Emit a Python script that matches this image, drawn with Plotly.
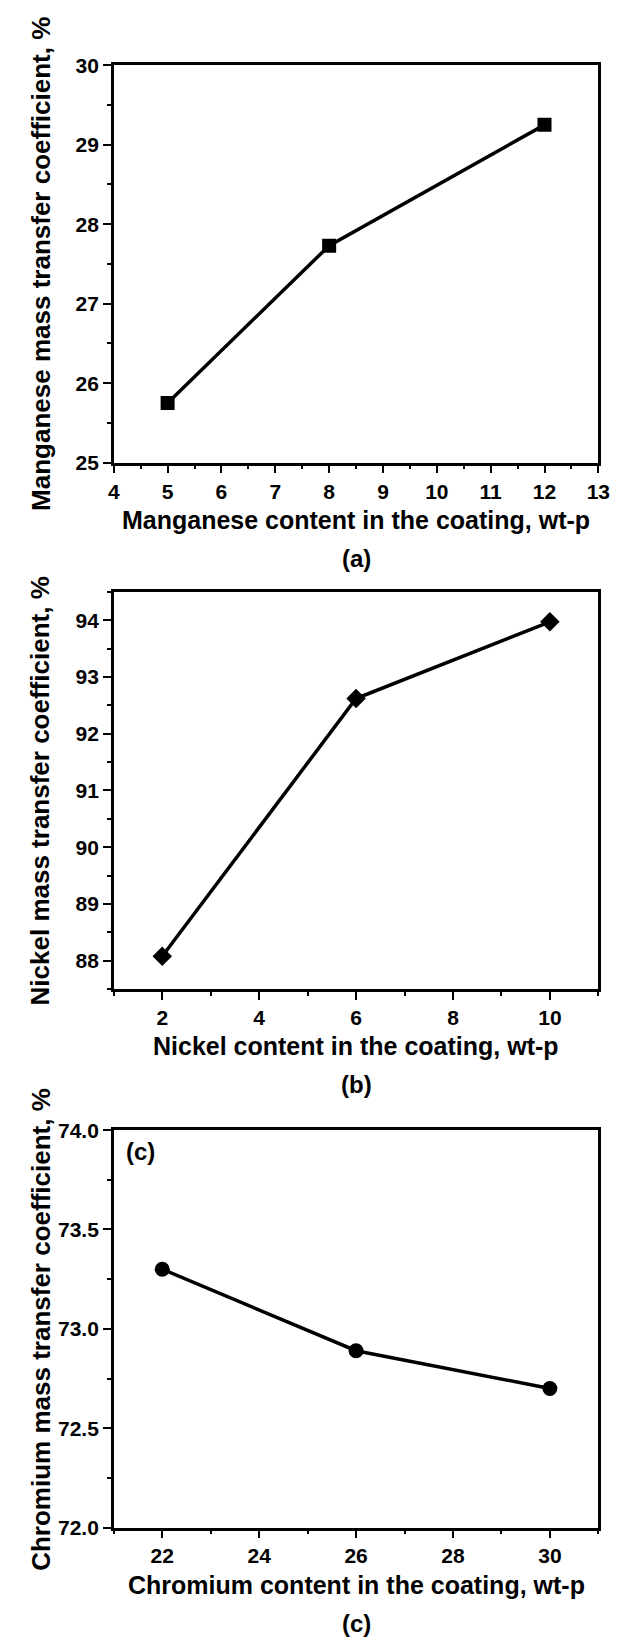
import plotly.graph_objects as go

W, H = 622, 1646

# ---------------- data ----------------
mn_content = [5, 8, 12]
mn_coeff = [25.75, 27.73, 29.25]

ni_content = [2, 6, 10]
ni_coeff = [88.08, 92.62, 93.97]

cr_content = [22, 26, 30]
cr_coeff = [73.30, 72.89, 72.70]

x_titles = ["Manganese content in the coating, wt-p",
            "Nickel content in the coating, wt-p",
            "Chromium content in the coating, wt-p"]
y_titles = ["Manganese mass transfer coefficient, %",
            "Nickel mass transfer coefficient, %",
            "Chromium mass transfer coefficient, %"]
panel_labels = ["(a)", "(b)", "(c)"]

# ---------------- layout helpers ----------------
FONT = "Liberation Sans, Arial, sans-serif"
left_px, right_px = 111, 610
panels_px = [(54, 457), (588, 991), (1134, 1537)]  # top, bottom in pixels


def py(p):
    return 1 - p / H


def px(p):
    return p / W


fig = go.Figure()

series = [
    (mn_content, mn_coeff, "square", 14),
    (ni_content, ni_coeff, "diamond", 15),
    (cr_content, cr_coeff, "circle", 15),
]
for i, (xs, ys, sym, sz) in enumerate(series):
    fig.add_trace(go.Scatter(
        x=xs, y=ys, mode="lines+markers",
        line=dict(color="black", width=3.5),
        marker=dict(symbol=sym, size=sz, color="black"),
        xaxis="x" if i == 0 else f"x{i+1}",
        yaxis="y" if i == 0 else f"y{i+1}",
        showlegend=False,
    ))

axis_common = dict(
    showline=True, linecolor="black", linewidth=2.5, mirror=True,
    ticks="outside", ticklen=8, tickwidth=2, tickcolor="black",
    showgrid=False, zeroline=False,
    tickfont=dict(family=FONT, size=21, color="black", weight="bold"),
)

xspecs = [
    dict(range=[4, 13], tick0=4, dtick=1, minor=dict(dtick=0.5)),
    dict(range=[1, 11], tick0=0, dtick=2, minor=dict(dtick=1)),
    dict(range=[21, 31], tick0=0, dtick=2, minor=dict(dtick=1)),
]
yspecs = [
    dict(range=[25, 30], tick0=25, dtick=1, minor=dict(dtick=0.5)),
    dict(range=[87.5, 94.5], tick0=88, dtick=1, minor=dict(dtick=0.5)),
    dict(range=[72, 74], tick0=72, dtick=0.5, tickformat=".1f", minor=dict(dtick=0.25)),
]

layout = dict(
    width=W, height=H,
    margin=dict(l=0, r=0, t=0, b=0),
    paper_bgcolor="white", plot_bgcolor="white",
)
annotations = []
for i, (top, bot) in enumerate(panels_px):
    xname = "xaxis" if i == 0 else f"xaxis{i+1}"
    yname = "yaxis" if i == 0 else f"yaxis{i+1}"
    xa = dict(axis_common)
    xa.update(xspecs[i])
    xa["minor"] = dict(xspecs[i]["minor"], ticks="outside", ticklen=4, tickwidth=2, tickcolor="black")
    xa["domain"] = [px(left_px), px(right_px)]
    xa["anchor"] = "y" if i == 0 else f"y{i+1}"
    ya = dict(axis_common)
    ya.update(yspecs[i])
    ya["minor"] = dict(yspecs[i]["minor"], ticks="outside", ticklen=4, tickwidth=2, tickcolor="black")
    ya["domain"] = [py(bot), py(top)]
    ya["anchor"] = "x" if i == 0 else f"x{i+1}"
    layout[xname] = xa
    layout[yname] = ya

    cx = (left_px + right_px) / 2
    cy = (top + bot) / 2
    annotations.append(dict(
        text=x_titles[i], x=px(cx), y=py(bot + 58), xref="paper", yref="paper",
        xanchor="center", yanchor="middle", showarrow=False,
        font=dict(family=FONT, size=25, color="black", weight="bold")))
    annotations.append(dict(
        text=y_titles[i], x=px(36), y=py(cy), xref="paper", yref="paper",
        xanchor="center", yanchor="middle", showarrow=False, textangle=-90,
        font=dict(family=FONT, size=26, color="black", weight="bold")))
    annotations.append(dict(
        text=panel_labels[i], x=px(cx), y=py(bot + 97), xref="paper", yref="paper",
        xanchor="center", yanchor="middle", showarrow=False,
        font=dict(family=FONT, size=24, color="black", weight="bold")))

# inner label of panel (c)
annotations.append(dict(
    text="(c)", x=px(138), y=py(panels_px[2][0] + 22), xref="paper", yref="paper",
    xanchor="center", yanchor="middle", showarrow=False,
    font=dict(family=FONT, size=24, color="black", weight="bold")))

layout["annotations"] = annotations
fig.update_layout(**layout)
fig.write_html("out.html")
